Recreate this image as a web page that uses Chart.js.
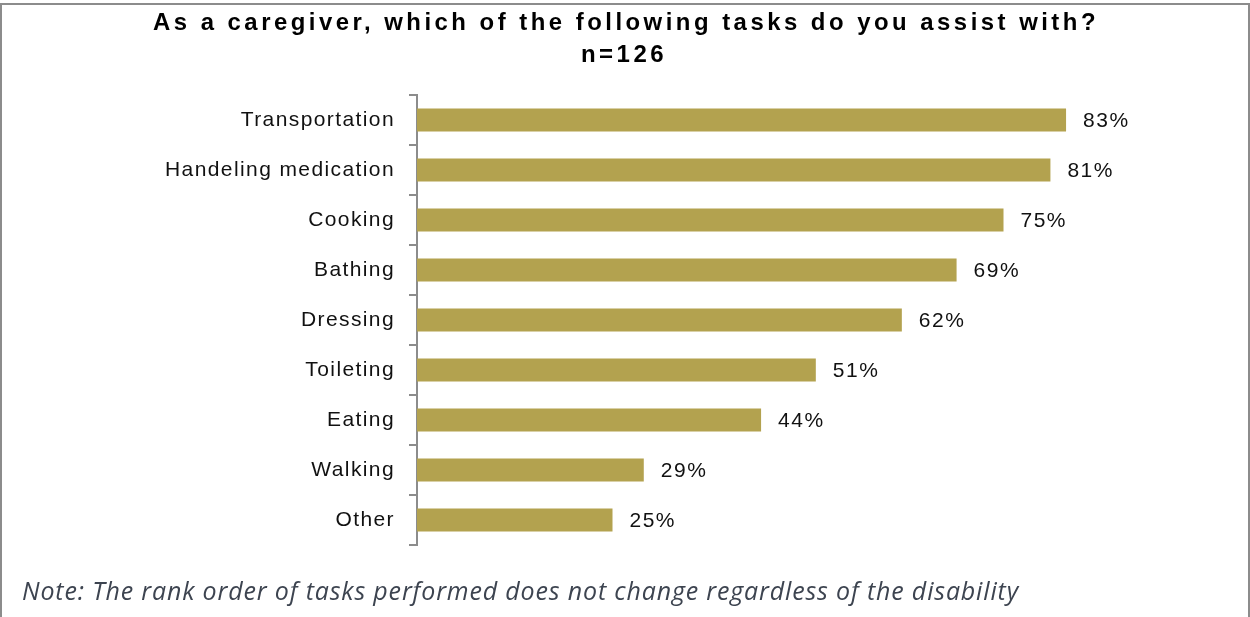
<!DOCTYPE html>
<html>
<head>
<meta charset="utf-8">
<script src="https://cdn.jsdelivr.net/npm/chart.js@4"></script>
<style>
  html, body { margin: 0; padding: 0; background: #fff; overflow: hidden; }
  #frame {
    position: absolute; left: 0; top: 3px; width: 1246px; height: 700px;
    border: 2px solid #8c8c8c;
  }
  #wrap { position: absolute; left: 0; top: 0; width: 1250px; height: 617px; }
</style>
</head>
<body>
<div id="frame"></div>
<div id="wrap"><canvas id="tasksChart" width="1250" height="617"></canvas></div>
<script>
const categories = ['Transportation', 'Handeling medication', 'Cooking', 'Bathing', 'Dressing', 'Toileting', 'Eating', 'Walking', 'Other'];
const percentages = [83, 81, 75, 69, 62, 51, 44, 29, 25];
const titleLines = ['As a caregiver, which of the following tasks do you assist with?', 'n=126'];
const noteText = 'Note: The rank order of tasks performed does not change regardless of the disability';

const barColor = '#b3a24f';

// spaced tick labels (Chart.js has no letterSpacing option)
const spacing = {
    id: 'spacing',
    beforeDraw(chart) { chart.ctx.letterSpacing = '1.4px'; }
};

// value labels at the end of every bar
const valueLabels = {
    id: 'valueLabels',
    afterDatasetsDraw(chart) {
        const ctx = chart.ctx;
        const meta = chart.getDatasetMeta(0);
        ctx.save();
        ctx.font = '21px "Liberation Sans", Arial, sans-serif';
        ctx.letterSpacing = '1.5px';
        ctx.fillStyle = '#111';
        ctx.textBaseline = 'middle';
        ctx.textAlign = 'left';
        meta.data.forEach((bar, i) => {
            ctx.fillText(percentages[i] + '%', bar.x + 17, bar.y + 1);
        });
        ctx.restore();
    }
};

// condensed bold title and italic note
const headerNote = {
    id: 'headerNote',
    afterDraw(chart) {
        const ctx = chart.ctx;
        ctx.save();
        ctx.font = 'bold 24px "Liberation Sans", Arial, sans-serif';
        ctx.letterSpacing = '3.5px';
        ctx.fillStyle = '#000';
        ctx.textAlign = 'center';
        ctx.textBaseline = 'middle';
        ctx.fillText(titleLines[0], 626, 23, 946);
        ctx.fillText(titleLines[1], 624, 55, 92);

        ctx.font = 'italic 25px "Open Sans", sans-serif';
        ctx.letterSpacing = '0.85px';
        ctx.fillStyle = '#3d4450';
        ctx.textAlign = 'left';
        ctx.fillText(noteText, 22, 593, 997);
        ctx.restore();
    }
};

new Chart(document.getElementById('tasksChart').getContext('2d'), {
    type: 'bar',
    data: {
        labels: categories,
        datasets: [{
            data: percentages,
            backgroundColor: barColor,
            borderWidth: 0,
            barPercentage: 0.92,
            categoryPercentage: 0.5
        }]
    },
    options: {
        indexAxis: 'y',
        responsive: false,
        animation: false,
        layout: { padding: { top: 95, bottom: 72, right: 51, left: 0 } },
        plugins: {
            legend: { display: false },
            tooltip: { enabled: false },
            title: { display: false }
        },
        scales: {
            x: {
                display: false,
                min: 0,
                max: 100
            },
            y: {
                afterFit(scale) { scale.width = 417; },
                grid: {
                    offset: true,
                    drawOnChartArea: false,
                    drawTicks: true,
                    tickLength: 8,
                    color: '#8c8c8c',
                    lineWidth: 2
                },
                border: { display: true, color: '#8c8c8c', width: 2 },
                ticks: {
                    padding: 14,
                    color: '#111',
                    font: { family: '"Liberation Sans", Arial, sans-serif', size: 21 }
                }
            }
        }
    },
    plugins: [spacing, valueLabels, headerNote]
});
</script>
</body>
</html>
